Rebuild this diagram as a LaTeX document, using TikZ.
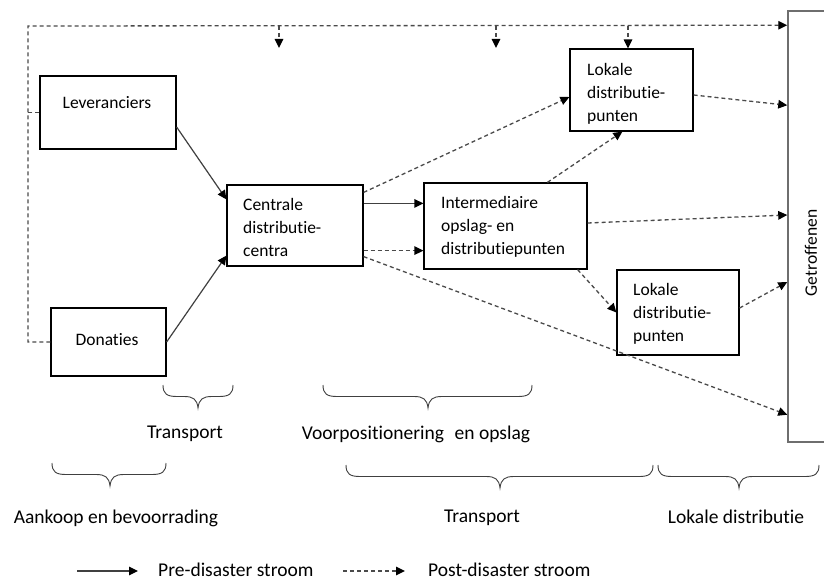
\documentclass[tikz,border=0pt]{standalone}
\usepackage{fontspec}
\setmainfont{Carlito}[Ligatures={NoCommon}]
\usetikzlibrary{arrows.meta}
\definecolor{linegray}{HTML}{404040}
\definecolor{dashgray}{HTML}{4A4A4A}
\definecolor{boxgray}{HTML}{6E6E6E}
\newcommand\BraceDn[4]{%
  \draw[brc] (#1,#4) .. controls (#1,#4+9) and (#1+4,#4+11.5) .. (#1+14,#4+11.5)
    -- (#3-14,#4+11.5) .. controls (#3-5,#4+11.5) and (#3-1,#4+14) .. (#3,#4+23)
    .. controls (#3+1,#4+14) and (#3+5,#4+11.5) .. (#3+14,#4+11.5)
    -- (#2-14,#4+11.5) .. controls (#2-4,#4+11.5) and (#2,#4+9) .. (#2,#4);}
\tikzset{
  box/.style={draw=black, line width=1.2pt, fill=white, inner sep=0pt},
  boxtxt/.style={font=\fontsize{17.5}{22.8}\selectfont, align=left, inner sep=0pt, anchor=base west},
  lbl/.style={font=\fontsize{19.5}{23}\selectfont, inner sep=0pt, anchor=base},
  tip/.style={-{Triangle[length=9pt,width=8.5pt,black]}},
  solidarrow/.style={tip, draw=linegray, line width=1.2pt},
  dasharrow/.style={tip, draw=dashgray, line width=1.3pt, dash pattern=on 4pt off 3pt},
  dashline/.style={draw=dashgray, line width=1.3pt, dash pattern=on 4pt off 3pt},
  brc/.style={draw=linegray, line width=0.9pt},
}
\begin{document}
\begin{tikzpicture}[x=1pt,y=-1pt]
\clip (0,0) rectangle (824,580);
\fill[white] (0,0) rectangle (824,580);

% boxes
\node[box, minimum width=136pt, minimum height=73pt] (lev) at (108,112.5) {};
\node[box, minimum width=115pt, minimum height=68pt] (don) at (108.5,342) {};
\node[box, minimum width=136pt, minimum height=81pt] (cen) at (295,225.5) {};
\node[box, minimum width=163pt, minimum height=86pt] (int) at (505.5,226) {};
\node[box, minimum width=123pt, minimum height=82pt] (lok1) at (631.5,90) {};
\node[box, minimum width=122pt, minimum height=85pt] (lok2) at (678,312.5) {};
\node[draw=boxgray, line width=1.5pt, fill=white, inner sep=0pt, minimum width=44pt, minimum height=431pt] (get) at (810,226.5) {};

% box texts (base anchor = baseline of last line)
\node[boxtxt, anchor=base] (levt) at (107,108.5) {Leveranciers};
\node[boxtxt, anchor=base] (dont) at (107,345.5) {Donaties};
\node[boxtxt] (cent) at (243,256.3) {Centrale\\distributie-\\centra};
\node[boxtxt] (intt) at (441,254.1) {Intermediaire\\opslag- en\\distributiepunten};
\node[boxtxt] (lok1t) at (587,121.1) {Lokale\\distributie-\\punten};
\node[boxtxt] (lok2t) at (633,341.1) {Lokale\\distributie-\\punten};
\node[font=\fontsize{17.5}{21}\selectfont, inner sep=0pt, rotate=90] (gett) at (811,253) {Getroffenen};

% pre-disaster (solid) flows
\draw[solidarrow] ([yshift=-14.5pt]lev.east) -- ([yshift=-15pt]cen.north west);
\draw[solidarrow] (don.east) -- ([yshift=11pt]cen.south west);
\draw[solidarrow] ([yshift=-19pt]cen.north east) -- ([yshift=-21pt]int.north west);

% post-disaster (dashed) flows
\draw[dasharrow] ([yshift=16pt]cen.south east) -- ([yshift=19pt]int.south west);
\draw[dasharrow] ([yshift=-8pt]cen.north east) -- ([yshift=-7pt]lok1.west);
\draw[dasharrow] ([yshift=10pt]cen.south east) -- ([yshift=28pt]get.south west);
\draw[dasharrow] ([xshift=124pt]int.north west) -- ([xshift=53pt]lok1.south west);
\draw[dasharrow] ([yshift=3pt]int.east) -- ([yshift=11.5pt]get.west);
\draw[dasharrow] ([xshift=-10pt]int.south east) -- (lok2.west);
\draw[dasharrow] ([yshift=4.5pt]lok2.east) -- ([yshift=-55.5pt]get.west);
\draw[dasharrow] ([yshift=-5pt]lok1.east) -- ([yshift=-95pt]get.north west);

% top feedback line
\coordinate (c1) at (28,342);
\coordinate (c2) at (28,26);
\draw[dasharrow] (don.west) -- (c1) -- (c2) -- ([yshift=-15pt]get.north west);
\draw[dashline] (lev.west) -- (c1 |- lev.west);
\coordinate (d1) at (279,26);
\coordinate (d1e) at (279,48);
\coordinate (d2) at (496,26);
\coordinate (d2e) at (496,48);
\coordinate (d3) at (628,26);
\draw[dasharrow] (d1) -- (d1e);
\draw[dasharrow] (d2) -- (d2e);
\draw[dasharrow] (d3) -- ([xshift=-3.5pt]lok1.north);

% braces
\BraceDn{163}{233}{198}{385}
\BraceDn{323}{532}{428}{385}
\BraceDn{52}{166}{110}{463}
\BraceDn{346}{653}{500}{465}
\BraceDn{658}{819}{739}{465}

% phase labels
\node[lbl] (tr1) at (185,438) {Transport};
\node[lbl] (vp) at (416,439) {Voorpositionering\hspace{0.55em}en opslag};
\node[lbl] (ak) at (116,523) {Aankoop en bevoorrading};
\node[lbl] (tr2) at (482,522) {Transport};
\node[lbl] (ld) at (736,523) {Lokale distributie};

% legend
\coordinate (ls1) at (77,571);
\coordinate (ls2) at (138,571);
\coordinate (ld1) at (343,571);
\coordinate (ld2) at (405,571);
\draw[solidarrow] (ls1) -- (ls2);
\draw[dasharrow] (ld1) -- (ld2);
\node[lbl, anchor=base west] (pre) at (158,576) {Pre-disaster stroom};
\node[lbl, anchor=base west] (post) at (428,576) {Post-disaster stroom};
\end{tikzpicture}
\end{document}
